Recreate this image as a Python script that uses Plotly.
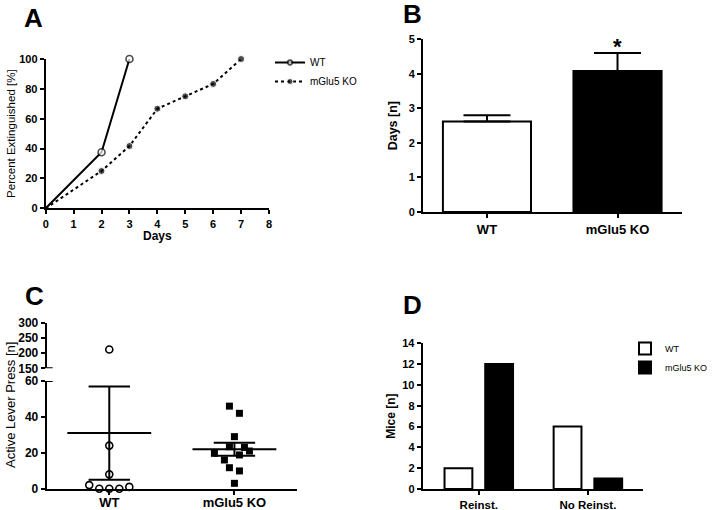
import plotly.graph_objects as go

FONT = "Liberation Sans, Arial, sans-serif"
W, H = 716, 510

# ---------------- data ----------------
# Panel A: cumulative percent extinguished per day
a_wt_days = [0, 2, 3]
a_wt_pct = [0, 37.5, 100]
a_ko_days = [0, 2, 3, 4, 5, 6, 7]
a_ko_pct = [0, 25, 41.7, 66.7, 75, 83.3, 100]

# Panel B: days to extinction (mean, SEM)
b_groups = ["WT", "mGlu5 KO"]
b_mean = [2.62, 4.08]
b_sem = [0.18, 0.52]

# Panel C: active lever presses per mouse
c_groups = ["WT", "mGlu5 KO"]
c_wt_vals = [212, 24, 8, 2, 0, 0, 0, 1]
c_wt_jit = [0, 0, 0, -0.16, -0.08, 0, 0.08, 0.16]
c_ko_vals = [46, 42, 29, 23.4, 23, 19.7, 21, 18.8, 16, 11.7, 9.9, 3]
c_ko_jit = [-0.04, 0.04, 0, -0.04, 0.08, -0.16, 0.12, 0.04, -0.08, -0.04, 0.04, 0]
c_mean = [31, 22]
c_sem = [26, 3.6]
c_break = 60

# Panel D: number of mice
d_cats = ["Reinst.", "No Reinst."]
d_wt = [2, 6]
d_ko = [12, 1]


def xd(p0, p1):
    return [p0 / W, p1 / W]


def yd(top, bottom):
    return [1 - bottom / H, 1 - top / H]


fig = go.Figure()

# ---------------- Panel A ----------------
fig.add_trace(go.Scatter(
    x=a_wt_days, y=a_wt_pct, mode="lines+markers", name="WT",
    line=dict(color="black", width=2),
    marker=dict(symbol="circle", size=[0] + [7] * (len(a_wt_days) - 1), color="white",
                line=dict(color="black", width=1.6)),
    xaxis="x", yaxis="y", legend="legend", cliponaxis=False))
fig.add_trace(go.Scatter(
    x=a_ko_days, y=a_ko_pct, mode="lines+markers", name="mGlu5 KO",
    line=dict(color="black", width=2, dash="dot"),
    marker=dict(symbol="circle", size=[0] + [7] * (len(a_ko_days) - 1), color="black"),
    xaxis="x", yaxis="y", legend="legend", cliponaxis=False))

# ---------------- Panel B ----------------
fig.add_trace(go.Bar(
    x=b_groups, y=b_mean, width=0.675,
    marker=dict(color=["white", "black"], line=dict(color="black", width=2)),
    error_y=dict(type="data", array=b_sem, arrayminus=[0] * len(b_sem), symmetric=False,
                 color="black", thickness=2, width=23.5),
    xaxis="x2", yaxis="y2", showlegend=False))

# ---------------- Panel C ----------------
ko_x = [1 + j for j in c_ko_jit]

fig.add_trace(go.Scatter(
    x=[0 + j for v, j in zip(c_wt_vals, c_wt_jit) if v <= c_break],
    y=[v for v in c_wt_vals if v <= c_break], mode="markers",
    marker=dict(symbol="circle", size=7, color="white", line=dict(color="black", width=1.6)),
    xaxis="x3", yaxis="y3", showlegend=False, cliponaxis=False))
fig.add_trace(go.Scatter(
    x=[0 + j for v, j in zip(c_wt_vals, c_wt_jit) if v > c_break],
    y=[v for v in c_wt_vals if v > c_break], mode="markers",
    marker=dict(symbol="circle", size=7, color="white", line=dict(color="black", width=1.6)),
    xaxis="x3", yaxis="y5", showlegend=False, cliponaxis=False))
fig.add_trace(go.Scatter(
    x=ko_x, y=c_ko_vals, mode="markers",
    marker=dict(symbol="square", size=7, color="black"),
    xaxis="x3", yaxis="y3", showlegend=False, cliponaxis=False))
# mean lines
for i, m in enumerate(c_mean):
    fig.add_trace(go.Scatter(
        x=[i - 0.335, i + 0.335], y=[m, m], mode="lines",
        line=dict(color="black", width=2),
        xaxis="x3", yaxis="y3", showlegend=False, hoverinfo="skip"))
# SEM error bars
fig.add_trace(go.Scatter(
    x=[0, 1], y=c_mean, mode="markers", marker=dict(size=1, color="rgba(0,0,0,0)"),
    error_y=dict(type="data", array=c_sem, color="black", thickness=2, width=20.7),
    xaxis="x3", yaxis="y3", showlegend=False, hoverinfo="skip"))

# ---------------- Panel D ----------------
fig.add_trace(go.Bar(
    x=d_cats, y=d_wt, name="WT", width=0.255, offset=-0.314,
    marker=dict(color="white", line=dict(color="black", width=2)),
    xaxis="x4", yaxis="y4", legend="legend2"))
fig.add_trace(go.Bar(
    x=d_cats, y=d_ko, name="mGlu5 KO", width=0.255, offset=0.059,
    marker=dict(color="black", line=dict(color="black", width=2)),
    xaxis="x4", yaxis="y4", legend="legend2"))

# ---------------- axes ----------------
common = dict(showline=True, linecolor="black", linewidth=2, ticks="outside",
              ticklen=4, tickwidth=1.5, tickcolor="black", showgrid=False,
              zeroline=False, automargin=False,
              tickfont=dict(family=FONT, size=11, color="black", weight="bold"))


def tf(size):
    return dict(family=FONT, size=size, color="black", weight="bold")


fig.update_layout(
    xaxis=dict(**common, domain=xd(45.7, 269), range=[0, 8], dtick=1, anchor="y",
               title=dict(text="Days", font=dict(family=FONT, size=12, weight="bold"), standoff=0)),
    yaxis=dict(**common, domain=yd(59, 208.3), range=[0, 100], dtick=20, anchor="x",
               title=dict(text="Percent Extinguished [%]", font=dict(family=FONT, size=11.5),
                          standoff=1)),
    xaxis2=dict(**{**common, "tickfont": tf(13)},
                domain=xd(423, 682), range=[-0.49, 1.494], anchor="y2", type="category"),
    yaxis2=dict(**common, domain=yd(39.3, 212), range=[0, 5], dtick=1, anchor="x2",
                title=dict(text="Days [n]", font=dict(family=FONT, size=12.5, weight="bold"),
                           standoff=8)),
    xaxis3=dict(**{**common, "tickfont": tf(13)}, ticklabelstandoff=-3,
                domain=xd(46.7, 297), range=[-0.5, 1.5], anchor="y3",
                tickvals=[0, 1], ticktext=c_groups),
    yaxis3=dict(**{**common, "tickfont": tf(12)},
                domain=yd(381, 488.7), range=[0, 60], dtick=20, anchor="x3"),
    yaxis5=dict(**{**common, "tickfont": tf(12)},
                domain=yd(322.7, 368.3), range=[150, 300], dtick=50, anchor="x3"),
    xaxis4=dict(**{**common, "tickfont": tf(11.5)},
                domain=xd(422.7, 643), range=[-0.514, 1.505], anchor="y4", type="category"),
    yaxis4=dict(**common, domain=yd(343.3, 489), range=[0, 14], dtick=2, anchor="x4",
                title=dict(text="Mice [n]", font=dict(family=FONT, size=12, weight="bold"),
                           standoff=4)),
)

# broken-axis caps on panel C
for yref, yv in (("y3", 60), ("y5", 150)):
    fig.add_shape(type="line", xref="x3 domain", x0=-0.022, x1=0.024, yref=yref, y0=yv, y1=yv,
                  line=dict(color="black", width=2))

# panel letters and C axis title
for txt, px, py in (("A", 33, 18), ("B", 412, 14), ("C", 34, 296), ("D", 412, 305)):
    fig.add_annotation(text=txt, x=px / W, y=1 - py / H, xref="paper", yref="paper",
                       showarrow=False, xanchor="center", yanchor="middle",
                       font=dict(family=FONT, size=26, color="black", weight="bold"))
fig.add_annotation(text="Active Lever Press [n]", x=10 / W, y=1 - 405 / H, xref="paper",
                   yref="paper", showarrow=False, textangle=-90, xanchor="center",
                   yanchor="middle", font=dict(family=FONT, size=13, color="black"))
# significance star
fig.add_annotation(text="*", x=b_groups[1], y=b_mean[1] + b_sem[1], xref="x2", yref="y2",
                   showarrow=False, yanchor="bottom", yshift=-8,
                   font=dict(family=FONT, size=22, color="black", weight="bold"))

fig.update_layout(
    template="none",
    width=W, height=H, autosize=False,
    margin=dict(l=0, r=0, t=0, b=0, autoexpand=False),
    paper_bgcolor="white", plot_bgcolor="white",
    font=dict(family=FONT, color="black"),
    barmode="overlay",
    legend=dict(x=270 / W, y=1 - 48 / H, xanchor="left", yanchor="top",
                font=dict(family=FONT, size=10, color="black"), bgcolor="rgba(0,0,0,0)",
                itemwidth=30, tracegroupgap=0),
    legend2=dict(x=625 / W, y=1 - 334 / H, xanchor="left", yanchor="top",
                 font=dict(family=FONT, size=9, color="black"), bgcolor="rgba(0,0,0,0)",
                 itemwidth=30),
)

fig.write_html("out.html", config={"displayModeBar": False},
               post_script="document.body.style.margin='0px';")
